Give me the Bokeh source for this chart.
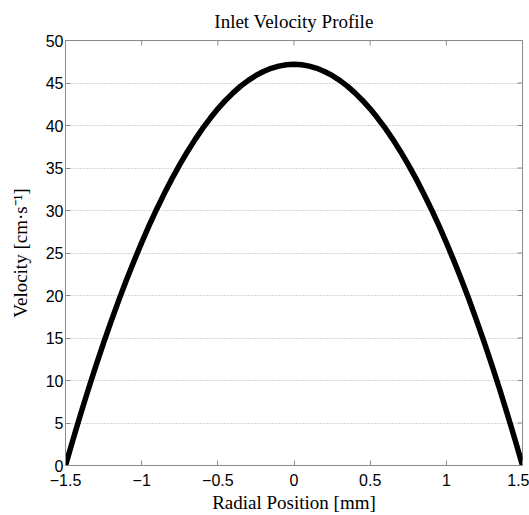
import math
from bokeh.plotting import figure
from bokeh.models import Range1d, FixedTicker
from bokeh.embed import file_html
from bokeh.resources import INLINE

radial = [-1.5, -1.45, -1.4, -1.35, -1.3, -1.25, -1.2, -1.15, -1.1, -1.05, -1.0,
          -0.95, -0.9, -0.85, -0.8, -0.75, -0.7, -0.65, -0.6, -0.55, -0.5,
          -0.45, -0.4, -0.35, -0.3, -0.25, -0.2, -0.15, -0.1, -0.05, 0.0,
          0.05, 0.1, 0.15, 0.2, 0.25, 0.3, 0.35, 0.4, 0.45, 0.5,
          0.55, 0.6, 0.65, 0.7, 0.75, 0.8, 0.85, 0.9, 0.95, 1.0,
          1.05, 1.1, 1.15, 1.2, 1.25, 1.3, 1.35, 1.4, 1.45, 1.5]
velocity = [0.0, 3.09, 6.08, 8.97, 11.75, 14.42, 16.99, 19.46, 21.82, 24.07, 26.22,
            28.27, 30.21, 32.04, 33.78, 35.40, 36.92, 38.34, 39.65, 40.85, 41.96,
            42.95, 43.84, 44.63, 45.31, 45.89, 46.36, 46.73, 46.99, 47.15, 47.2,
            47.15, 46.99, 46.73, 46.36, 45.89, 45.31, 44.63, 43.84, 42.95, 41.96,
            40.85, 39.65, 38.34, 36.92, 35.40, 33.78, 32.04, 30.21, 28.27, 26.22,
            24.07, 21.82, 19.46, 16.99, 14.42, 11.75, 8.97, 6.08, 3.09, 0.0]
x_ticks = [-1.5, -1, -0.5, 0, 0.5, 1, 1.5]
y_ticks = [0, 5, 10, 15, 20, 25, 30, 35, 40, 45, 50]
x_min, x_max = -1.5, 1.5
y_min, y_max = 0, 50

AX = "#8a8a8a"

p = figure(width=529, height=515, output_backend="svg", toolbar_location=None,
           x_range=Range1d(x_min, x_max), y_range=Range1d(y_min, y_max),
           title="Inlet Velocity Profile",
           min_border_left=65, min_border_right=7, min_border_top=40, min_border_bottom=48)
p.title.align = "center"
p.title.text_font = "Liberation Serif"
p.title.text_font_style = "normal"
p.title.text_font_size = "19px"
p.title.text_color = "black"
p.title.offset = 0
p.title.standoff = 17

p.xgrid.visible = False
p.ygrid.ticker = FixedTicker(ticks=y_ticks)
p.ygrid.grid_line_color = "#aaaaaa"
p.ygrid.grid_line_dash = "1 2"
p.ygrid.grid_line_width = 1
p.outline_line_color = AX
p.background_fill_color = "white"
p.border_fill_color = "white"

# inward ticks on the top and right sides of the box
p.scatter(x_ticks, [y_max] * len(x_ticks), marker="dash", size=10, angle=math.pi / 2,
          line_color=AX, line_width=1)
p.scatter([x_max] * len(y_ticks), y_ticks, marker="dash", size=10, angle=0,
          line_color=AX, line_width=1)

p.line(radial, velocity, line_color="black", line_width=5.5, line_join="round", line_cap="round")

p.xaxis.ticker = FixedTicker(ticks=x_ticks)
p.yaxis.ticker = FixedTicker(ticks=y_ticks)
p.xaxis.major_label_overrides = {-1.5: "\u22121.5", -1: "\u22121", -0.5: "\u22120.5", 0: "0",
                                 0.5: "0.5", 1: "1", 1.5: "1.5"}
p.xaxis.axis_label = "Radial Position [mm]"
p.yaxis.axis_label = "Velocity [cm\u00b7s\u207b\u00b9]"

for ax in [p.xaxis[0], p.yaxis[0]]:
    ax.axis_line_color = AX
    ax.major_tick_line_color = AX
    ax.major_tick_in = 5
    ax.major_tick_out = 0
    ax.minor_tick_line_color = None
    ax.major_label_text_font = "Liberation Sans"
    ax.major_label_text_font_size = "16px"
    ax.major_label_text_color = "black"
    ax.axis_label_text_font = "Liberation Serif"
    ax.axis_label_text_font_style = "normal"
    ax.axis_label_text_font_size = "19px"
    ax.axis_label_text_color = "black"
p.xaxis.major_label_standoff = 8
p.xaxis.axis_label_standoff = 3
p.yaxis.major_label_standoff = 2
p.yaxis.axis_label_standoff = 12

open("out.html", "w").write(file_html(p, INLINE))
